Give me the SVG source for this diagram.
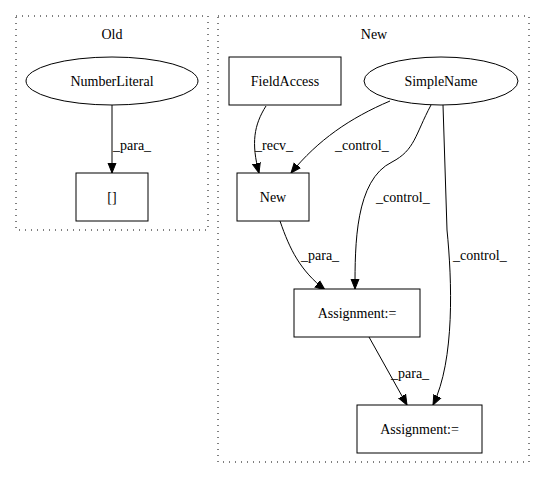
<svg xmlns="http://www.w3.org/2000/svg" width="545" height="480" viewBox="0 0 545 480">
<style>
text{font-family:'Liberation Serif','Times New Roman','DejaVu Serif',serif;font-size:14px;fill:#000}
.c{fill:none;stroke:#000;stroke-dasharray:1,5}
.n{fill:#fff;stroke:#000;stroke-width:1}
.e{fill:none;stroke:#000;stroke-width:1}
</style>
<defs>
<marker id="a" markerWidth="10" markerHeight="10" refX="10" refY="5" orient="auto" markerUnits="userSpaceOnUse" viewBox="0 0 10 10">
<path d="M0,1 L10,5 L0,9 Z" fill="#000" stroke="#000"/>
</marker>
</defs>
<rect width="545" height="480" fill="#fff"/>
<g id="cluster_old">
<rect class="c" x="16" y="16" width="192" height="214"/>
<text x="112" y="39" text-anchor="middle" font-family="Liberation Serif, serif">Old</text>
</g>
<g id="cluster_new">
<rect class="c" x="218" y="16" width="311" height="446"/>
<text x="374" y="39" text-anchor="middle" font-family="Liberation Serif, serif">New</text>
</g>
<g id="edges">
<path class="e" d="M112,105 L112,173" marker-end="url(#a)"/>
<text x="113" y="150" font-family="Liberation Serif, serif">_para_</text>
<path class="e" d="M266,106 C254,125 251,143 259,173" marker-end="url(#a)"/>
<text x="255" y="150" font-family="Liberation Serif, serif">_recv_</text>
<path class="e" d="M390,101 C350,118 318,140 291,173" marker-end="url(#a)"/>
<text x="335" y="150" font-family="Liberation Serif, serif">_control_</text>
<path class="e" d="M431,105 C415,135 415,150 392,162 C355,180 355,245 355,289" marker-end="url(#a)"/>
<text x="376" y="202" font-family="Liberation Serif, serif">_control_</text>
<path class="e" d="M443,105 L447,230 C452,280 455,360 433,405" marker-end="url(#a)"/>
<text x="453" y="260" font-family="Liberation Serif, serif">_control_</text>
<path class="e" d="M280,221 C290,250 300,270 325,290" marker-end="url(#a)"/>
<text x="301" y="260" font-family="Liberation Serif, serif">_para_</text>
<path class="e" d="M369,337 L407,405" marker-end="url(#a)"/>
<text x="391" y="378" font-family="Liberation Serif, serif">_para_</text>
</g>
<g id="NumberLiteral">
<ellipse class="n" cx="112" cy="81" rx="86" ry="24"/>
<text x="112" y="86" text-anchor="middle" font-family="Liberation Serif, serif">NumberLiteral</text>
</g>
<g id="Index">
<rect class="n" x="76" y="173" width="72" height="48"/>
<text x="112" y="202" text-anchor="middle" font-family="Liberation Serif, serif">[]</text>
</g>
<g id="FieldAccess">
<rect class="n" x="229" y="57" width="112" height="48"/>
<text x="285" y="86" text-anchor="middle" font-family="Liberation Serif, serif">FieldAccess</text>
</g>
<g id="SimpleName">
<ellipse class="n" cx="441" cy="81" rx="77" ry="24"/>
<text x="441" y="86" text-anchor="middle" font-family="Liberation Serif, serif">SimpleName</text>
</g>
<g id="New">
<rect class="n" x="237" y="173" width="72" height="48"/>
<text x="273" y="202" text-anchor="middle" font-family="Liberation Serif, serif">New</text>
</g>
<g id="Assignment1">
<rect class="n" x="294" y="289" width="126" height="48"/>
<text x="357" y="318" text-anchor="middle" font-family="Liberation Serif, serif">Assignment:=</text>
</g>
<g id="Assignment2">
<rect class="n" x="357" y="405" width="125" height="48"/>
<text x="419.5" y="434" text-anchor="middle" font-family="Liberation Serif, serif">Assignment:=</text>
</g>
</svg>
